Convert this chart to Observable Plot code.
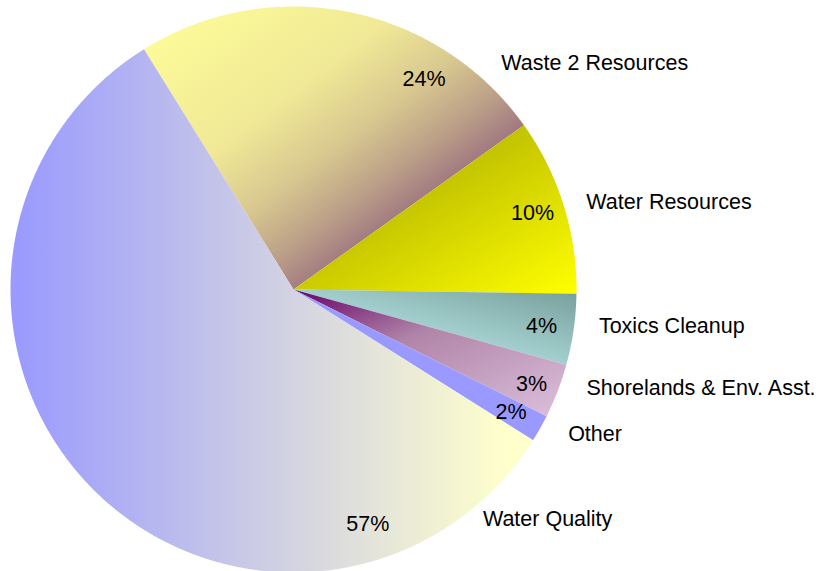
<!DOCTYPE html>
<html>
<head>
<meta charset="utf-8">
<script src="https://cdn.jsdelivr.net/npm/d3@7"></script>
<script src="https://cdn.jsdelivr.net/npm/@observablehq/plot@0.6"></script>
<style>
  html, body { margin: 0; padding: 0; background: #ffffff; }
  #chart svg { display: block; }
</style>
</head>
<body>
<div id="chart"></div>
<script>
// ---------- data ----------
const categories = ["Waste 2 Resources", "Water Resources", "Toxics Cleanup", "Shorelands & Env. Asst.", "Other", "Water Quality"];
const shares = [24.0, 10.1, 4.05, 3.1, 1.55, 57.2];

// ---------- layout / style ----------
const W = 827, H = 571;
const CX = 293, CY = 289, R = 283;          // pie centre and radius in pixels
const START_DEG = -31.9;                     // first slice starts left of 12 o'clock
const pctRadius  = [0.875, 0.887, 0.886, 0.905, 0.882, 0.871];   // fraction of pie radius
const nameRadius = [1.085, 1.080, 1.087, 1.092, 1.096, 1.053];
const pctNudgeDeg  = [20.5, -0.4, 0.35, 0.6, 0, -62.7];
const nameNudgeDeg = [31.3, 0.7, -1.25, -2.5, -1.7, -84.6];
const FONT = "'Liberation Sans', Arial, Helvetica, sans-serif";
const FONT_SIZE = 21.5;

const gradientSpecs = [
  {x1: 0, y1: 0, x2: 1, y2: 1, stops: [[0, "#ffff99"], [0.35, "#f0e896"], [0.5, "#d8c890"], [0.62, "#bb9f88"], [0.72, "#9e7480"], [1, "#8a5a78"]]},
  {x1: 0, y1: 0, x2: 1, y2: 1, stops: [[0, "#999900"], [1, "#ffff00"]]},
  {x1: 0, y1: 1, x2: 1, y2: 0, stops: [[0, "#ccffff"], [1, "#779e9b"]]},
  {x1: 0, y1: 0, x2: 1, y2: 1, stops: [[0, "#660066"], [0.4, "#b084a8"], [1, "#dcc0dc"]]},
  {x1: 0, y1: 0, x2: 1, y2: 0, stops: [[0, "#9999ff"], [1, "#9999ff"]]},
  {x1: 0, y1: 0, x2: 0.95, y2: 0, stops: [[0, "#9999ff"], [1, "#ffffcc"]]}
];

// ---------- build slices ----------
const rows = categories.map((name, i) => ({name, value: shares[i], idx: i}));
const start = START_DEG * Math.PI / 180;
const arcs = d3.pie().sort(null).value(d => d.value).startAngle(start).endAngle(start + 2 * Math.PI)(rows);

const slicePoints = [];
for (const a of arcs) {
  const fill = `url(#pieGrad${a.data.idx})`;
  slicePoints.push({name: a.data.name, fill, x: 0, y: 0});
  const n = Math.max(4, Math.ceil((a.endAngle - a.startAngle) / 0.004));
  for (let k = 0; k <= n; k++) {
    const t = a.startAngle + (a.endAngle - a.startAngle) * k / n;
    slicePoints.push({name: a.data.name, fill, x: Math.sin(t), y: Math.cos(t)});
  }
  slicePoints.push({name: a.data.name, fill, x: 0, y: 0});
}

const deg = Math.PI / 180;
const pctLabels = arcs.map(a => {
  const i = a.data.idx;
  const t = (a.startAngle + a.endAngle) / 2 + pctNudgeDeg[i] * deg;
  return {text: Math.round(a.data.value) + "%", x: pctRadius[i] * Math.sin(t), y: pctRadius[i] * Math.cos(t)};
});
const nameLabels = arcs.map(a => {
  const i = a.data.idx;
  const t = (a.startAngle + a.endAngle) / 2 + nameNudgeDeg[i] * deg;
  return {text: a.data.name, x: nameRadius[i] * Math.sin(t), y: nameRadius[i] * Math.cos(t)};
});

const chart = Plot.plot({
  width: W,
  height: H,
  margin: 0,
  x: {domain: [-CX / R, (W - CX) / R], axis: null},
  y: {domain: [-(H - CY) / R, CY / R], axis: null},
  color: {type: "identity"},
  style: {background: "#ffffff", fontFamily: FONT},
  marks: [
    Plot.line(slicePoints, {x: "x", y: "y", z: "name", fill: "fill", stroke: "none", curve: "linear"}),
    Plot.text(pctLabels, {x: "x", y: "y", text: "text", fontSize: FONT_SIZE, fontFamily: FONT, fill: "#000000", textAnchor: "middle"}),
    Plot.text(nameLabels, {x: "x", y: "y", text: "text", fontSize: FONT_SIZE, fontFamily: FONT, fill: "#000000", textAnchor: "start"})
  ]
});

// gradient definitions
const NS = "http://www.w3.org/2000/svg";
const defs = document.createElementNS(NS, "defs");
gradientSpecs.forEach((g, i) => {
  const lg = document.createElementNS(NS, "linearGradient");
  lg.setAttribute("id", "pieGrad" + i);
  lg.setAttribute("x1", g.x1); lg.setAttribute("y1", g.y1);
  lg.setAttribute("x2", g.x2); lg.setAttribute("y2", g.y2);
  for (const [off, col] of g.stops) {
    const s = document.createElementNS(NS, "stop");
    s.setAttribute("offset", off);
    s.setAttribute("stop-color", col);
    lg.appendChild(s);
  }
  defs.appendChild(lg);
});
chart.insertBefore(defs, chart.firstChild);

document.getElementById("chart").appendChild(chart);
</script>
</body>
</html>
